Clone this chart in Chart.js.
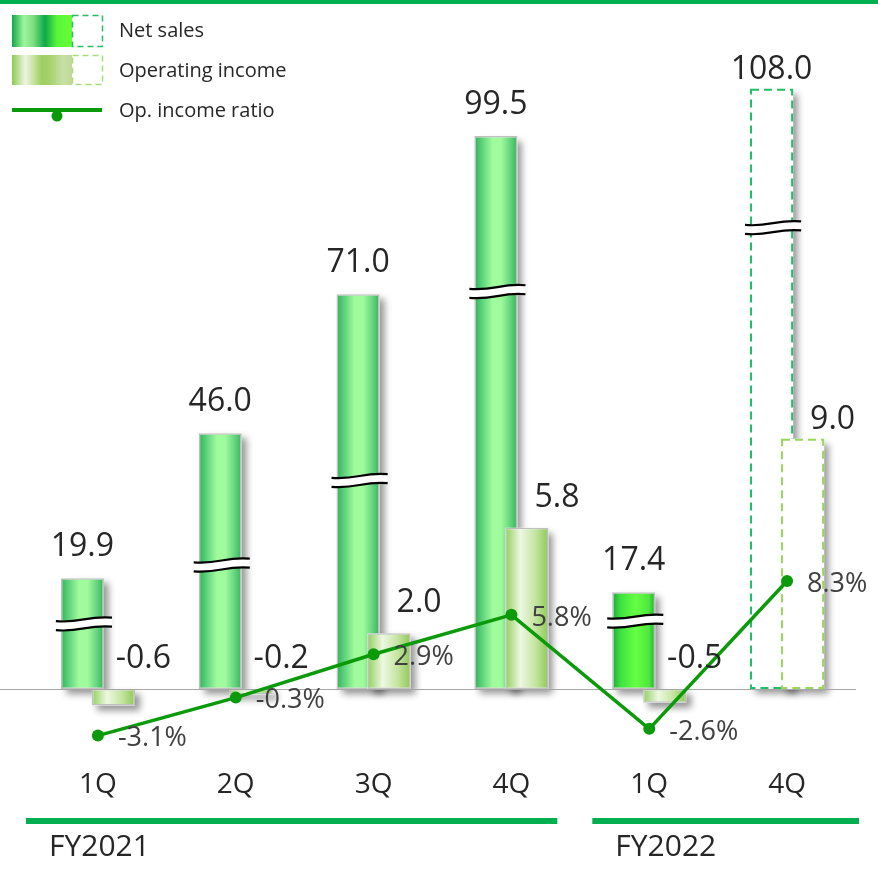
<!DOCTYPE html>
<html>
<head>
<meta charset="utf-8">
<script src="https://cdn.jsdelivr.net/npm/chart.js@4/dist/chart.umd.min.js"></script>
<style>
  html, body { margin: 0; padding: 0; background: #fff; }
  #wrap { width: 878px; height: 872px; position: relative; }
</style>
</head>
<body>
<div id="wrap"><canvas id="c" width="878" height="872"></canvas></div>
<script>
// Quarterly results (billion yen), FY2022 4Q is the forecast
const quarters = ['1Q', '2Q', '3Q', '4Q', '1Q', '4Q'];
const fiscalYears = ['FY2021', 'FY2022'];
const fiscalYearOfQuarter = [0, 0, 0, 0, 1, 1];
const netSales = [19.9, 46.0, 71.0, 99.5, 17.4, 108.0];
const operatingIncome = [-0.6, -0.2, 2.0, 5.8, -0.5, 9.0];
const opIncomeRatio = [-3.1, -0.3, 2.9, 5.8, -2.6, 8.3];
const isForecast = [false, false, false, false, false, true];
// Height (net sales units) where the axis-break symbol crosses each net sales bar
const salesBreakAt = [11.7, 22.3, 37.5, 71.5, 12.2, 83.0];

const FONT = "'Open Sans', 'DejaVu Sans', sans-serif";
const GREEN_LINE = '#00b050';
const RATIO_GREEN = '#0a9a0a';

function hGradient(ctx, left, right, stops) {
  const g = ctx.createLinearGradient(left, 0, right, 0);
  stops.forEach(([p, c]) => g.addColorStop(p, c));
  return g;
}

const salesStopsFY21 = [[0, '#2fb257'], [0.18, '#5ed27c'], [0.42, '#9ffb9c'], [0.62, '#9ffb9c'], [0.85, '#5fd27b'], [1, '#34b35a']];
const salesStopsFY22 = [[0, '#1fa63e'], [0.2, '#3ee23f'], [0.55, '#66ff44'], [0.85, '#4fe83c'], [1, '#24a93e']];
const opStops = [[0, '#90cf5c'], [0.35, '#eef8e2'], [0.7, '#c4e4a0'], [1, '#8ec955']];

function barRect(el) {
  const left = el.x - el.width / 2;
  const right = el.x + el.width / 2;
  const top = Math.min(el.y, el.base);
  const bottom = Math.max(el.y, el.base);
  return { left, right, top, bottom };
}

function drawBreak(ctx, left, right, y) {
  const x0 = left - 5, x1 = right + 8, w = x1 - x0, half = 4.5, tilt = 1.8;
  const path = (dy) => {
    ctx.moveTo(x0, y + tilt + dy);
    ctx.bezierCurveTo(x0 + w * 0.45, y + tilt * 2.2 + dy, x0 + w * 0.55, y - tilt * 2.2 + dy, x1, y - tilt + dy);
  };
  ctx.save();
  ctx.beginPath();
  ctx.moveTo(x0, y + tilt - half);
  ctx.bezierCurveTo(x0 + w * 0.45, y + tilt * 2.2 - half, x0 + w * 0.55, y - tilt * 2.2 - half, x1, y - tilt - half);
  ctx.lineTo(x1, y - tilt + half);
  ctx.bezierCurveTo(x0 + w * 0.55, y - tilt * 2.2 + half, x0 + w * 0.45, y + tilt * 2.2 + half, x0, y + tilt + half);
  ctx.closePath();
  ctx.fillStyle = '#ffffff';
  ctx.fill();
  ctx.strokeStyle = '#000000';
  ctx.lineWidth = 2.2;
  ctx.beginPath(); path(-half); ctx.stroke();
  ctx.beginPath(); path(half); ctx.stroke();
  ctx.restore();
}

// Bars are painted here so that operating income sits over net sales,
// each with a soft drop shadow, gradient fill and dashed outline for forecasts.
const barPainter = {
  id: 'barPainter',
  beforeDatasetDraw(chart, args) {
    if (args.meta.type === 'bar') return false;
  },
  beforeDatasetsDraw(chart) {
    const ctx = chart.ctx;
    [0, 1].forEach(di => {
      const meta = chart.getDatasetMeta(di);
      meta.data.forEach((el, i) => {
        const r = barRect(el);
        const w = r.right - r.left, h = r.bottom - r.top;
        // shadow
        ctx.save();
        ctx.shadowColor = 'rgba(0,0,0,0.42)';
        ctx.shadowBlur = 7;
        ctx.shadowOffsetX = 5;
        ctx.shadowOffsetY = 5;
        ctx.fillStyle = '#ffffff';
        ctx.fillRect(r.left, r.top, w, h);
        ctx.restore();

        if (isForecast[i]) {
          ctx.save();
          ctx.fillStyle = '#ffffff';
          ctx.fillRect(r.left, r.top, w, h);
          ctx.setLineDash([8, 5]);
          ctx.lineWidth = 2;
          ctx.strokeStyle = di === 0 ? '#1fbf66' : '#98d65c';
          ctx.strokeRect(r.left + 1, r.top + 1, w - 2, h - 2);
          ctx.restore();
        } else {
          const stops = di === 0
            ? (fiscalYearOfQuarter[i] === 0 ? salesStopsFY21 : salesStopsFY22)
            : opStops;
          el.options = Object.assign({}, el.options, {
            backgroundColor: hGradient(ctx, r.left, r.right, stops)
          });
          el.draw(ctx);
        }
      });
    });
    // axis-break symbols on the net sales bars
    const sales = chart.getDatasetMeta(0);
    const yS = chart.scales.ySales;
    sales.data.forEach((el, i) => {
      const r = barRect(el);
      drawBreak(ctx, r.left, r.right, yS.getPixelForValue(salesBreakAt[i]));
    });
    // zero line
    const y0 = Math.round(yS.getPixelForValue(0)) + 0.5;
    ctx.save();
    ctx.strokeStyle = '#a6a6a6';
    ctx.lineWidth = 1;
    ctx.beginPath();
    ctx.moveTo(0, y0);
    ctx.lineTo(chart.chartArea.right, y0);
    ctx.stroke();
    ctx.restore();
  }
};

const valueLabels = {
  id: 'valueLabels',
  afterDatasetsDraw(chart) {
    const ctx = chart.ctx;
    ctx.save();
    ctx.textAlign = 'center';
    ctx.textBaseline = 'middle';
    ctx.font = `32px ${FONT}`;
    ctx.fillStyle = '#262626';
    chart.getDatasetMeta(0).data.forEach((el, i) => {
      const r = barRect(el);
      ctx.fillText(netSales[i].toFixed(1), el.x, r.top - (isForecast[i] ? 19 : 31));
    });
    chart.getDatasetMeta(1).data.forEach((el, i) => {
      const r = barRect(el);
      ctx.fillText(operatingIncome[i].toFixed(1), el.x + 30, r.top - (isForecast[i] ? 19 : 30));
    });
    ctx.font = `27px ${FONT}`;
    ctx.fillStyle = '#404040';
    ctx.textAlign = 'left';
    chart.getDatasetMeta(2).data.forEach((pt, i) => {
      ctx.fillText(opIncomeRatio[i].toFixed(1) + '%', pt.x + 20, pt.y + 3);
    });
    ctx.restore();
  }
};

// Legend, top rule and fiscal-year grouping under the quarter labels
const frame = {
  id: 'frame',
  afterDraw(chart) {
    const ctx = chart.ctx;
    const xs = chart.scales.x;
    ctx.save();
    ctx.fillStyle = GREEN_LINE;
    ctx.fillRect(0, 0, chart.width, 4);

    // legend swatches
    const netLegend = [[0, '#10a848'], [0.2, '#9ef59e'], [0.35, '#7fe07f'], [0.55, '#0ea84a'], [0.75, '#5af53a'], [1, '#66ff33']];
    const opLegend = [[0, '#8ccc50'], [0.22, '#eef5e2'], [0.5, '#9dd060'], [0.62, '#a3d268'], [0.85, '#c8dea8'], [1, '#c0d898']];
    ctx.fillStyle = hGradient(ctx, 12, 72, netLegend);
    ctx.fillRect(12, 15, 60, 32);
    ctx.fillStyle = hGradient(ctx, 12, 72, opLegend);
    ctx.fillRect(12, 55, 60, 30);
    ctx.setLineDash([6, 4]);
    ctx.lineWidth = 1.5;
    ctx.strokeStyle = '#2cb96a';
    ctx.strokeRect(72.5, 15.5, 30, 31);
    ctx.strokeStyle = '#a6dd7a';
    ctx.strokeRect(72.5, 55.5, 30, 29);
    ctx.setLineDash([]);
    ctx.strokeStyle = RATIO_GREEN;
    ctx.lineWidth = 4;
    ctx.beginPath(); ctx.moveTo(12, 110); ctx.lineTo(102, 110); ctx.stroke();
    ctx.fillStyle = RATIO_GREEN;
    ctx.beginPath(); ctx.arc(57, 116, 5.5, 0, Math.PI * 2); ctx.fill();

    ctx.fillStyle = '#262626';
    ctx.font = `20px ${FONT}`;
    ctx.textBaseline = 'middle';
    ctx.textAlign = 'left';
    ctx.fillText('Net sales', 119, 31);
    ctx.fillText('Operating income', 119, 71);
    ctx.fillText('Op. income ratio', 119, 111);

    // fiscal-year groups
    const half = (xs.getPixelForValue(1) - xs.getPixelForValue(0)) / 2;
    ctx.font = `30px ${FONT}`;
    fiscalYears.forEach((fy, k) => {
      const idx = fiscalYearOfQuarter.map((f, i) => f === k ? i : -1).filter(i => i >= 0);
      const first = idx[0], last = idx[idx.length - 1];
      let x0 = xs.getPixelForValue(first) - half;
      let x1 = xs.getPixelForValue(last) + half;
      x0 = first === 0 ? x0 - 3 : x0 + 12;
      x1 = last === quarters.length - 1 ? x1 + 3 : x1 - 23;
      ctx.fillStyle = GREEN_LINE;
      ctx.fillRect(x0, 818, x1 - x0, 6);
      ctx.fillStyle = '#262626';
      ctx.fillText(fy, x0 + 23, 847);
    });
    ctx.restore();
  }
};

new Chart(document.getElementById('c'), {
  data: {
    labels: quarters,
    datasets: [
      {
        type: 'bar',
        label: 'Net sales',
        data: netSales,
        yAxisID: 'ySales',
        backgroundColor: '#6fe08a',
        borderColor: '#bfbfbf',
        borderWidth: 1.5,
        borderSkipped: false,
        categoryPercentage: 0.45,
        barPercentage: 1.39
      },
      {
        type: 'bar',
        label: 'Operating income',
        data: operatingIncome,
        yAxisID: 'yOp',
        backgroundColor: '#c4e4a0',
        borderColor: '#bfbfbf',
        borderWidth: 1.5,
        borderSkipped: false,
        categoryPercentage: 0.45,
        barPercentage: 1.39
      },
      {
        type: 'line',
        label: 'Op. income ratio',
        data: opIncomeRatio,
        yAxisID: 'yRatio',
        borderColor: RATIO_GREEN,
        backgroundColor: RATIO_GREEN,
        borderWidth: 3.5,
        pointRadius: 6,
        pointBackgroundColor: RATIO_GREEN,
        pointBorderWidth: 0,
        tension: 0,
        fill: false
      }
    ]
  },
  options: {
    responsive: false,
    animation: false,
    devicePixelRatio: 1,
    layout: { padding: { left: 29, right: 22, top: 22, bottom: 60 } },
    plugins: { legend: { display: false }, tooltip: { enabled: false } },
    scales: {
      x: {
        type: 'category',
        offset: true,
        grid: { display: false, drawTicks: false },
        border: { display: false },
        ticks: { font: { family: FONT, size: 28 }, color: '#262626', padding: 10 }
      },
      ySales: { type: 'linear', display: false, min: -12.5, max: 120 },
      yOp: { type: 'linear', display: false, min: -2.5, max: 24 },
      yRatio: { type: 'linear', display: false, min: -4.78, max: 49.5 }
    }
  },
  plugins: [barPainter, valueLabels, frame]
});
</script>
</body>
</html>
